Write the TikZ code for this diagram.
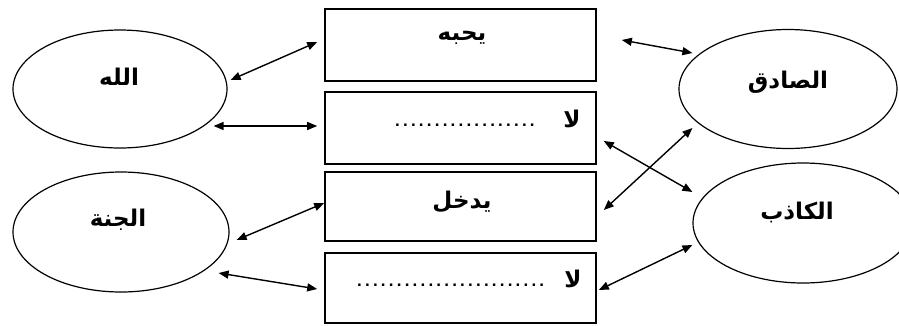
\documentclass[tikz,border=0pt]{standalone}
\usepackage{fontspec}
\setmainfont{Liberation Sans}
\newfontfamily\arabicfont[Script=Arabic]{DejaVu Sans}
\TeXXeTstate=1
\usetikzlibrary{shapes.geometric,arrows.meta,calc}
\newcommand\artext[1]{{\arabicfont\bfseries\beginR #1\endR}}
\newcommand\dotrow[1]{\foreach \i in {1,...,#1}{.\kern3.2pt}}
\begin{document}
\begin{tikzpicture}[x=1pt,y=-1pt,
  oval/.style={draw,ellipse,line width=1.2pt,inner sep=0pt},
  slot/.style={draw,rectangle,line width=1.6pt,minimum width=271pt,inner sep=0pt},
  lbl/.style={font=\fontsize{23}{25}\selectfont,inner sep=0pt},
  dotlbl/.style={font=\bfseries\fontsize{17}{19}\selectfont,inner sep=0pt},
  link/.style={line width=1.4pt,{Triangle[length=10pt,width=8pt]}-{Triangle[length=10pt,width=8pt]}}]
\useasboundingbox (0,0) rectangle (899,325);
\fill[white] (0,0) rectangle (899,325);
% ellipses
\node[oval,minimum width=214pt,minimum height=118pt] (allah) at (120,89) {};
\node[oval,minimum width=216pt,minimum height=120pt] (janna) at (121,232) {};
\node[oval,minimum width=218pt,minimum height=119pt] (sadiq) at (788,89) {};
\node[oval,minimum width=220pt,minimum height=120pt] (kadhib) at (803,223) {};
\node[lbl] (tallah) at (119,77) {\artext{الله}};
\node[lbl] (tjanna) at (118,220) {\artext{الجنة}};
\node[lbl] (tsadiq) at (788,82) {\artext{الصادق}};
\node[lbl] (tkadhib) at (797,212) {\artext{الكاذب}};
% boxes
\node[slot,minimum height=72pt] (b1) at (460.5,45) {};
\node[slot,minimum height=72pt] (b2) at (460.5,128) {};
\node[slot,minimum height=69pt] (b3) at (460.5,206.5) {};
\node[slot,minimum height=70pt] (b4) at (460.5,288) {};
\node[lbl] (t1) at (462,38) {\artext{يحبه}};
\node[lbl] (t2) at (572,119) {\artext{لا}};
\node[dotlbl,anchor=west] (d2) at (395,125) {\dotrow{18}};
\node[dotlbl,anchor=west] (d4) at (357,285) {\dotrow{24}};
\node[lbl] (t3) at (462,202) {\artext{يدخل}};
\node[lbl] (t4) at (573,279) {\artext{لا}};
% connectors
\draw[link] ($(allah.east)+(3,-9)$) -- ($(b1.west)+(-7,-3)$);
\draw[link] ($(allah.east)+(-14,37)$) -- ($(b2.west)+(-7,-2)$);
\draw[link] ($(janna.east)+(7,8)$) -- ($(b3.west)+(0,-3.5)$);
\draw[link] ($(janna.east)+(-11,41)$) -- ($(b4.west)+(-7,1)$);
\draw[link] ($(b1.east)+(25,-5)$) -- ($(sadiq.west)+(14,-36)$);
\draw[link] ($(b2.east)+(7,13)$) -- ($(kadhib.west)+(0,-31)$);
\draw[link] ($(b3.east)+(7,3.5)$) -- ($(sadiq.west)+(14,39)$);
\draw[link] ($(b4.east)+(2,2)$) -- ($(kadhib.west)+(0,22)$);
\end{tikzpicture}
\end{document}
